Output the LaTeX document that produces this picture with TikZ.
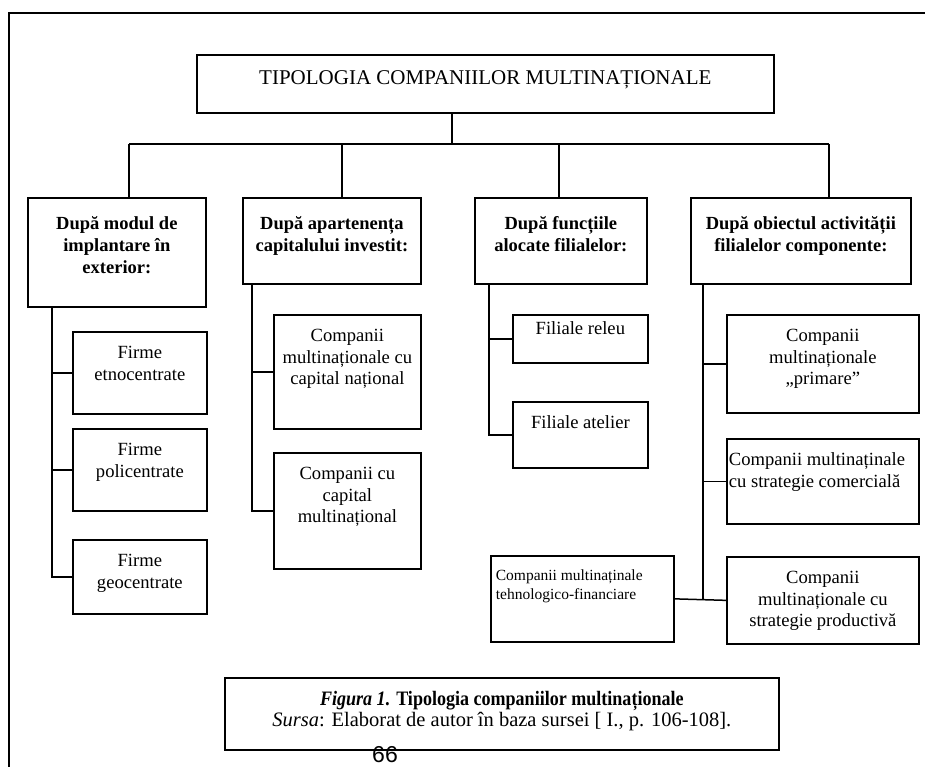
\documentclass[tikz,border=0pt]{standalone}
\usepackage{fontspec}
\setmainfont{Liberation Serif}
\newfontfamily\pagenofont{Liberation Sans}

% font sizes used in the chart
\newcommand\titlefont{\fontsize{21}{25}\selectfont}
\newcommand\headfont{\fontsize{18.5}{22}\selectfont\bfseries}
\newcommand\itemfont{\fontsize{18.6}{21.5}\selectfont}
\newcommand\smallitemfont{\fontsize{15.5}{19}\selectfont}
\newcommand\capfont{\fontsize{20.5}{21}\selectfont}

% fixed-size cell: width, height, top padding, font/alignment, text
\newcommand\cellbody[5]{%
  \parbox[c][#2][t]{#1}{\vspace*{#3}#4\strut#5\par}}

\begin{document}
\begin{tikzpicture}[x=1pt,y=-1pt,
  cell/.style={draw, line width=1.7pt, inner sep=0pt, anchor=north west},
  link/.style={line width=1.5pt},
  frameline/.style={line width=1.9pt}]
\useasboundingbox (0,0) rectangle (925,767);

% page frame
\draw[frameline] (935,13) -- (9,13) -- (9,775);

% root
\node[cell] (T) at (196,54)
  {\cellbody{577pt}{58pt}{12.5pt}{\titlefont\centering}{TIPOLOGIA COMPANIILOR MULTINAȚIONALE}};

% criteria
\node[cell] (K1) at (27,197)
  {\cellbody{178pt}{109pt}{16.5pt}{\headfont\centering}{După modul de\\implantare în\\exterior:}};
\node[cell] (K2) at (242,197)
  {\cellbody{178pt}{86pt}{16.5pt}{\headfont\centering}{După apartenența\\capitalului investit:}};
\node[cell] (K3) at (474,197)
  {\cellbody{172pt}{86pt}{16.5pt}{\headfont\centering}{După funcțiile\\alocate filialelor:}};
\node[cell] (K4) at (690,197)
  {\cellbody{220pt}{86pt}{16.5pt}{\headfont\centering}{După obiectul activității\\filialelor componente:}};

% first branch
\node[cell] (F1) at (72,331)
  {\cellbody{134pt}{82pt}{12pt}{\itemfont\centering}{Firme\\etnocentrate}};
\node[cell] (F2) at (72,428)
  {\cellbody{134pt}{82pt}{12pt}{\itemfont\centering}{Firme\\policentrate}};
\node[cell] (F3) at (72,539)
  {\cellbody{134pt}{74pt}{12pt}{\itemfont\centering}{Firme\\geocentrate}};

% second branch
\node[cell] (C1) at (273,314)
  {\cellbody{147pt}{114pt}{12pt}{\itemfont\centering}{Companii\\multinaționale cu\\capital național}};
\node[cell] (C2) at (273,452)
  {\cellbody{147pt}{116pt}{12pt}{\itemfont\centering}{Companii cu\\capital\\multinațional}};

% third branch
\node[cell] (R1) at (512,314)
  {\cellbody{135pt}{48pt}{5pt}{\itemfont\centering}{Filiale releu}};
\node[cell] (R2) at (512,401)
  {\cellbody{135pt}{66pt}{12pt}{\itemfont\centering}{Filiale atelier}};

% fourth branch
\node[cell] (P1) at (726,314)
  {\cellbody{192pt}{98pt}{12pt}{\itemfont\centering}{Companii\\multinaționale\\„primare”}};
\node[cell] (P2) at (726,438)
  {\cellbody{192pt}{85pt}{12pt}{\itemfont\raggedright\leftskip=2pt}{Companii multinaținale\\cu strategie comercială}};
\node[cell] (P3) at (726,556)
  {\cellbody{192pt}{87pt}{12pt}{\itemfont\centering}{Companii\\multinaționale cu\\strategie productivă}};
\node[cell] (Tn) at (490,555)
  {\cellbody{183pt}{86pt}{11.5pt}{\smallitemfont\raggedright\leftskip=5pt}{Companii multinaținale\\tehnologico-financiare}};

% caption
\node[cell] (Cp) at (224,677)
  {\cellbody{554pt}{72pt}{12.5pt}{\capfont\centering}{\scalebox{0.88}[1]{{\bfseries\itshape Figura 1.} {\bfseries Tipologia companiilor multinaționale}}\\\textit{Sursa}: Elaborat de autor în baza sursei [ I., p. 106-108].}};
\node[font=\pagenofont\fontsize{23}{23}\selectfont, inner sep=0pt] (pg) at (385,755) {66};

% connectors from the root
\coordinate (hub) at (452,144);
\coordinate (d1) at (129,144);
\coordinate (d2) at (342,144);
\coordinate (d3) at (559,144);
\coordinate (d4) at (829,144);
\draw[link] (T.south -| hub) -- (hub);
\draw[link] (d1) -- (d4);
\foreach \i in {1,...,4} \draw[link] (d\i) -- (d\i |- K\i.north);

% spines under each criterion
\coordinate (s1) at ([xshift=25pt]K1.south west);
\coordinate (s2) at ([xshift=10pt]K2.south west);
\coordinate (s3) at ([xshift=15pt]K3.south west);
\coordinate (s4) at ([xshift=13pt]K4.south west);

\draw[link] (s1) -- (s1 |- F3.west) -- (F3.west);
\draw[link] (s1 |- F1.west) -- (F1.west);
\draw[link] (s1 |- F2.west) -- (F2.west);

\draw[link] (s2) -- (s2 |- C2.west) -- (C2.west);
\draw[link] (s2 |- C1.west) -- (C1.west);

\draw[link] (s3) -- (s3 |- R2.west) -- (R2.west);
\draw[link] (s3 |- R1.west) -- (R1.west);

\draw[link] (s4) -- (s4 |- P3.west);
\draw[link] (s4 |- P1.west) -- (P1.west);
\draw[link] (s4 |- P2.west) -- (P2.west);
\draw[link] (Tn.east) -- (P3.west);
\end{tikzpicture}
\end{document}
